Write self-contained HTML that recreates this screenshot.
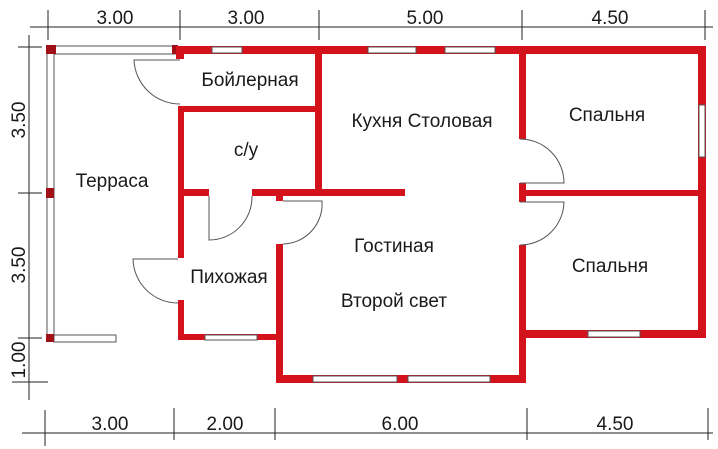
<!DOCTYPE html>
<html><head><meta charset="utf-8"><style>
body{margin:0;background:#fff;width:718px;height:449px;overflow:hidden}
svg{display:block}
text{font-family:"Liberation Sans",sans-serif;fill:#1a1a1a}
</style></head><body>
<svg width="718" height="449" viewBox="0 0 718 449" xmlns="http://www.w3.org/2000/svg">
<g stroke="#222" stroke-width="1" fill="none">
<line x1="30" y1="27" x2="713" y2="27"/>
<line x1="48" y1="10" x2="48" y2="40"/><line x1="180" y1="10" x2="180" y2="40"/><line x1="319" y1="10" x2="319" y2="40"/><line x1="522" y1="10" x2="522" y2="40"/><line x1="705" y1="10" x2="705" y2="40"/>
<line x1="29" y1="35" x2="29" y2="400"/>
<line x1="18" y1="47" x2="42" y2="47"/><line x1="18" y1="193" x2="42" y2="193"/><line x1="18" y1="338" x2="42" y2="338"/><line x1="12" y1="382" x2="48" y2="382"/>
<line x1="22" y1="433" x2="713" y2="433"/>
<line x1="45" y1="410" x2="45" y2="446"/><line x1="174" y1="408" x2="174" y2="440"/><line x1="275" y1="408" x2="275" y2="440"/><line x1="527" y1="408" x2="527" y2="440"/><line x1="708" y1="408" x2="708" y2="440"/>
</g>
<g font-size="19" text-anchor="middle">
<text x="115" y="24">3.00</text><text x="246" y="24">3.00</text><text x="425" y="24">5.00</text><text x="610" y="24">4.50</text>
<text x="110" y="430">3.00</text><text x="225" y="430">2.00</text><text x="400" y="430">6.00</text><text x="615" y="430">4.50</text>
<text transform="translate(25,120) rotate(-90)">3.50</text>
<text transform="translate(25,265) rotate(-90)">3.50</text>
<text transform="translate(25,360) rotate(-90)">1.00</text>
</g>
<g fill="#fff" stroke="#555" stroke-width="1">
<rect x="47" y="50" width="7" height="288"/>
<rect x="54" y="46" width="122" height="8"/>
<rect x="54" y="335" width="62" height="7"/>
</g>
<g fill="#a01018"><rect x="46" y="45" width="10" height="9"/><rect x="46" y="188" width="8" height="10"/><rect x="46" y="334" width="8" height="8"/><rect x="172" y="45" width="6" height="9"/></g>
<g fill="#d4121c">
<rect x="176" y="46" width="530" height="8"/>
<rect x="176" y="46" width="8" height="13"/>
<rect x="698" y="46" width="8" height="292"/>
<rect x="315" y="47" width="7" height="147"/>
<rect x="178" y="106" width="142" height="6"/>
<rect x="178" y="106" width="6" height="152"/>
<rect x="178" y="300" width="6" height="40"/>
<rect x="178" y="334" width="100" height="6"/>
<rect x="178" y="189" width="31" height="7"/>
<rect x="252" y="189" width="153" height="7"/>
<rect x="276" y="189" width="7" height="12"/>
<rect x="276" y="244" width="7" height="139"/>
<rect x="276" y="375" width="250" height="8"/>
<rect x="519" y="47" width="7" height="92"/>
<rect x="519" y="183" width="7" height="19"/>
<rect x="519" y="245" width="7" height="138"/>
<rect x="520" y="190" width="182" height="6"/>
<rect x="520" y="330" width="186" height="8"/>
</g>
<g fill="#fff" stroke="#555" stroke-width="1">
<rect x="212" y="47" width="30" height="6"/>
<rect x="368" y="47" width="48" height="6"/>
<rect x="445" y="47" width="50" height="6"/>
<rect x="699" y="105" width="6" height="52"/>
<rect x="588" y="331" width="52" height="6"/>
<rect x="313" y="376" width="84" height="6"/>
<rect x="408" y="376" width="82" height="6"/>
<rect x="205" y="335" width="52" height="5"/>
</g>
<g fill="none" stroke="#555" stroke-width="1">
<path d="M180 60 H134 A46 46 0 0 0 180 104"/>
<path d="M178 259 H133 A45 45 0 0 0 178 303"/>
<path d="M209 196 V240 A43 43 0 0 0 252 196"/>
<path d="M283 201 H322 A40 40 0 0 1 283 244"/>
<path d="M520 183 H564 A44 44 0 0 0 520 139"/>
<path d="M520 202 H564 A44 44 0 0 1 520 245"/>
</g>
<g font-size="19" text-anchor="middle">
<text x="250" y="86">Бойлерная</text>
<text x="246" y="156">с/у</text>
<text x="112" y="187">Терраса</text>
<text x="422" y="127">Кухня Столовая</text>
<text x="607" y="121">Спальня</text>
<text x="610" y="272">Спальня</text>
<text x="394" y="252">Гостиная</text>
<text x="394" y="307">Второй свет</text>
<text x="229" y="283">Пихожая</text>
</g>
</svg>
</body></html>
